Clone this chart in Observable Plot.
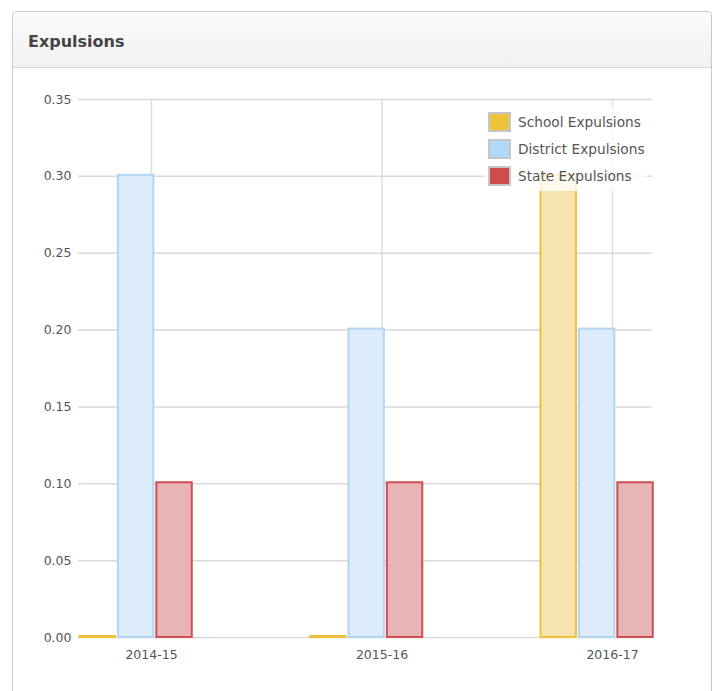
<!DOCTYPE html>
<html>
<head>
<meta charset="utf-8">
<script src="https://cdn.jsdelivr.net/npm/d3@7"></script>
<script src="https://cdn.jsdelivr.net/npm/@observablehq/plot@0.6"></script>
<style>
  html, body { margin: 0; padding: 0; background: #fff; }
  #page { position: relative; width: 716px; height: 691px; overflow: hidden; font-family: "DejaVu Sans", Verdana, sans-serif; }
  #panel { position: absolute; left: 12px; top: 11px; width: 700px; height: 700px; box-sizing: border-box;
           border: 1px solid #c9c9c9; border-radius: 4px 4px 0 0; background: #fff; }
  #header { position: absolute; left: 0; top: 0; right: 0; height: 56px; box-sizing: border-box;
            background: linear-gradient(#fbfbfb, #f1f1f1); border-bottom: 1px solid #d6d6d6; border-radius: 4px 4px 0 0; }
  #title { position: absolute; left: 15px; top: 22px; font-weight: bold; font-size: 16px; color: #444; line-height: 1; }
  #chart { position: absolute; left: 0px; top: 56px; }
  #legend { position: absolute; left: 471px; top: 95px; width: 163px; height: 84px; background: rgba(255,255,255,0.78); }
  .item { position: absolute; left: 4px; height: 20px; display: flex; align-items: center; font-size: 13.7px; color: #555; white-space: nowrap; }
  .sw { width: 19px; height: 16px; border: 2px solid #c6c6c6; margin-right: 7px; box-sizing: content-box; }
</style>
</head>
<body>
<div id="page">
  <div id="panel">
    <div id="header"><div id="title">Expulsions</div></div>
    <div id="chart"></div>
    <div id="legend"></div>
  </div>
</div>
<script>
// ---- data ----
const categories = ["2014-15", "2015-16", "2016-17"];
const seriesNames = ["School Expulsions", "District Expulsions", "State Expulsions"];
const schoolValues = [0.00, 0.00, 0.30];
const districtValues = [0.30, 0.20, 0.20];
const stateValues = [0.10, 0.10, 0.10];
const yTicks = [0, 0.05, 0.10, 0.15, 0.20, 0.25, 0.30, 0.35];

// ---- styles ----
const fills = ["#f6e4ae", "#dcecfb", "#e8b5b7"];
const strokes = ["#eec13d", "#b3d5f4", "#d14d50"];
const swatchColors = ["#efc23b", "#b2d8f8", "#cf4a4c"];

const seriesValues = [schoolValues, districtValues, stateValues];
const slot = 1 / 6;          // width of one bar slot in category units
const groupStart = -0.3167;  // group starts left of the category tick

const rows = [];
seriesValues.forEach((vals, s) => {
  vals.forEach((v, c) => {
    rows.push({series: s, cat: c, value: v,
               x1: c + groupStart + s * slot, x2: c + groupStart + (s + 1) * slot});
  });
});

const chart = Plot.plot({
  width: 698,
  height: 624,
  marginLeft: 65,
  marginRight: 59,
  marginTop: 31,
  marginBottom: 55,
  x: {type: "linear", domain: [-0.3167, 2.1735], label: null},
  y: {domain: [0, 0.35], label: null},
  style: {fontFamily: "DejaVu Sans, Verdana, sans-serif", fontSize: "12.5px", color: "#555", background: "transparent", overflow: "visible"},
  marks: [
    Plot.gridY(yTicks, {stroke: "#d9d9d9", strokeOpacity: 1, strokeWidth: 1.5}),
    Plot.gridX(categories.map((_, i) => i), {stroke: "#dedede", strokeOpacity: 1, strokeWidth: 1.5}),
    ...[0, 1, 2].map(s => Plot.rect(rows.filter(r => r.series === s), {
      x1: "x1", x2: "x2", y1: 0, y2: "value",
      fill: fills[s], stroke: strokes[s], strokeWidth: 2,
      insetLeft: 1.5, insetRight: 1.5, insetTop: -1
    })),
    Plot.axisY({ticks: yTicks, tickFormat: d3.format(".2f"), tickSize: 0, tickPadding: 7, label: null}),
    Plot.axisX({ticks: categories.map((_, i) => i), tickFormat: i => categories[i], tickSize: 0, tickPadding: 13, label: null})
  ]
});
document.getElementById("chart").appendChild(chart);

// legend
const legend = document.getElementById("legend");
seriesNames.forEach((name, i) => {
  const item = document.createElement("div");
  item.className = "item";
  item.style.top = (5 + i * 27) + "px";
  const sw = document.createElement("div");
  sw.className = "sw";
  sw.style.background = swatchColors[i];
  item.appendChild(sw);
  item.appendChild(document.createTextNode(name));
  legend.appendChild(item);
});
</script>
</body>
</html>
